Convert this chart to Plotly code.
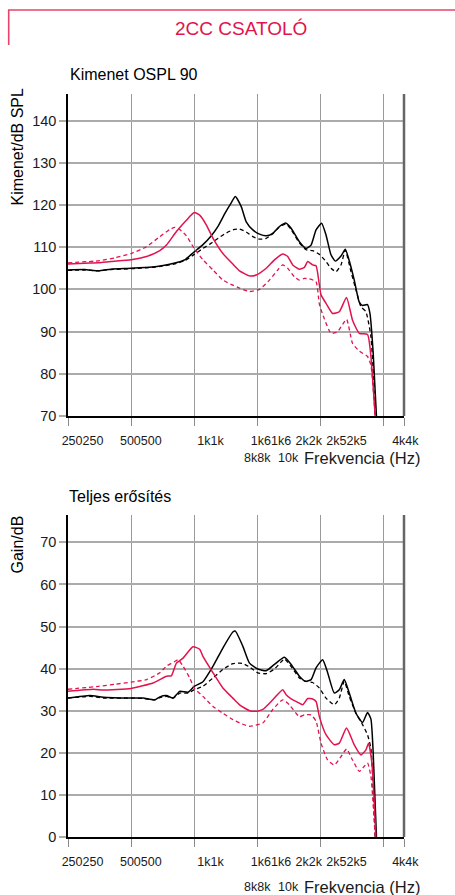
import math
import plotly.graph_objects as go

# ---------------- data (frequency in Hz, level in dB) ----------------
# Top chart: Kimenet OSPL 90
OSPL_BLK_SOLID_F = [250, 300, 350, 400, 500, 630, 700, 800, 900, 1000, 1100, 1200, 1300, 1400, 1500, 1570,
                    1675, 1769, 1902, 2046, 2203, 2368, 2548, 2742, 2896, 3171, 3413, 3605, 3808, 4047, 4248,
                    4487, 4703, 5007, 5249, 5483, 5792, 6119, 6344, 6700, 6880, 7130, 7390]
OSPL_BLK_SOLID_V = [104.6, 104.7, 104.4, 104.8, 105.0, 105.3, 105.6, 106.2, 107.0, 108.9, 110.6, 112.6, 115.0,
                    118.0, 120.5, 122.0, 119.6, 116.0, 114.1, 113.1, 112.7, 113.3, 114.9, 115.7, 114.5, 111.3,
                    109.7, 110.5, 114.1, 115.7, 112.9, 108.2, 106.7, 107.9, 109.5, 106.8, 102.2, 97.0, 96.2,
                    96.4, 94.3, 84.9, 70.0]

OSPL_BLK_DASH_F = [250, 300, 350, 400, 500, 630, 700, 800, 900, 1000, 1100, 1200, 1300, 1400, 1527, 1644,
                   1769, 1902, 2046, 2203, 2368, 2548, 2742, 2896, 3171, 3413, 3668, 3949, 4248, 4487, 4740,
                   5007, 5249, 5587, 5902, 6234, 6583, 6955, 7286]
OSPL_BLK_DASH_V = [104.5, 104.6, 104.4, 104.7, 104.9, 105.2, 105.5, 106.0, 106.8, 108.3, 109.7, 110.9, 112.1,
                   113.2, 114.1, 114.3, 113.6, 112.5, 111.9, 112.1, 113.2, 114.8, 115.5, 114.2, 111.0, 109.4,
                   109.2, 108.3, 106.6, 105.0, 104.2, 105.8, 109.3, 104.2, 99.9, 95.9, 94.7, 88.8, 70.0]

OSPL_RED_SOLID_F = [250, 300, 350, 400, 500, 592, 685, 737, 822, 917, 1000, 1061, 1141, 1229, 1369, 1527,
                    1644, 1834, 1974, 2203, 2412, 2641, 2789, 2947, 3171, 3350, 3473, 3668, 3808, 4022, 4248,
                    4566, 4914, 5322, 5684, 6119, 6700, 6955, 7286]
OSPL_RED_SOLID_V = [106.0, 106.2, 106.3, 106.6, 107.0, 107.8, 109.2, 110.5, 113.7, 116.4, 118.2, 117.6, 115.3,
                    112.1, 108.5, 106.0, 104.4, 103.2, 103.4, 105.0, 107.0, 108.4, 107.8, 105.8, 104.8, 105.2,
                    106.6, 105.8, 105.6, 98.7, 96.7, 94.3, 94.7, 98.1, 92.7, 89.6, 89.3, 84.1, 70.0]

OSPL_RED_DASH_F = [250, 354, 420, 500, 592, 685, 764, 807, 852, 917, 1000, 1100, 1229, 1369, 1527, 1644,
                   1834, 2046, 2283, 2500, 2641, 2789, 3002, 3171, 3350, 3539, 3808, 3949, 4094, 4487, 4823,
                   5322, 5684, 6119, 6700, 6955, 7286]
OSPL_RED_DASH_V = [106.3, 106.8, 107.5, 108.5, 110.1, 112.5, 114.2, 114.7, 114.2, 112.7, 109.7, 107.0, 104.6,
                   102.2, 101.0, 100.3, 99.5, 100.0, 102.2, 104.6, 105.8, 105.0, 103.0, 102.2, 102.6, 102.5,
                   101.8, 96.5, 94.1, 89.6, 90.0, 92.9, 87.2, 85.4, 84.1, 82.0, 70.0]

# Bottom chart: Teljes erősítés (gain)
GAIN_BLK_SOLID_F = [250, 318, 368, 500, 570, 648, 685, 737, 792, 852, 933, 1000, 1100, 1229, 1369, 1527,
                    1570, 1705, 1834, 2009, 2203, 2412, 2691, 2896, 3171, 3387, 3605, 3808, 4094, 4322, 4652,
                    4914, 5190, 5483, 5902, 6344, 6700, 6955, 7130, 7390]
GAIN_BLK_SOLID_V = [33.0, 33.6, 33.2, 33.0, 33.0, 32.6, 33.3, 33.6, 33.0, 34.6, 34.4, 35.8, 36.9, 40.6, 44.9,
                    48.7, 48.9, 45.3, 41.3, 39.9, 39.5, 41.0, 42.7, 41.0, 38.2, 37.0, 37.4, 40.2, 42.1, 39.1,
                    34.2, 35.0, 37.4, 34.2, 29.4, 27.2, 29.6, 28.0, 20.0, 0.0]

GAIN_BLK_DASH_F = [250, 318, 368, 500, 570, 648, 685, 737, 792, 852, 933, 1000, 1100, 1229, 1369, 1527,
                   1644, 1705, 1834, 2009, 2203, 2412, 2596, 2691, 2896, 3171, 3387, 3668, 3949, 4248, 4652,
                   4914, 5190, 5483, 5902, 6344, 6700, 6955, 7286]
GAIN_BLK_DASH_V = [33.0, 33.4, 33.0, 33.0, 32.9, 32.6, 33.1, 33.4, 33.0, 34.2, 34.2, 35.0, 35.8, 37.8, 39.8,
                   41.2, 41.3, 41.2, 40.4, 39.0, 38.8, 39.9, 41.6, 42.3, 40.5, 37.8, 37.0, 36.7, 35.4, 33.0,
                   31.4, 33.0, 37.0, 33.4, 29.4, 26.7, 24.3, 21.0, 0.0]

GAIN_RED_SOLID_F = [250, 330, 368, 500, 636, 685, 737, 778, 822, 884, 986, 1061, 1100, 1229, 1369, 1527,
                    1644, 1834, 2000, 2122, 2368, 2641, 2742, 2896, 3113, 3288, 3473, 3668, 3808, 3949, 4248,
                    4652, 4914, 5322, 5792, 6234, 6583, 6774, 7034, 7340]
GAIN_RED_SOLID_V = [34.6, 35.1, 34.9, 35.3, 36.6, 37.4, 38.2, 38.3, 41.3, 42.5, 45.2, 44.6, 42.9, 39.0, 35.4,
                    33.0, 31.4, 30.0, 29.9, 30.3, 32.6, 35.0, 33.8, 32.8, 32.0, 31.4, 32.9, 32.8, 32.2, 28.6,
                    24.3, 21.9, 22.3, 25.9, 21.9, 19.5, 20.7, 22.3, 17.5, 0.0]

GAIN_RED_DASH_F = [250, 350, 420, 500, 592, 685, 737, 807, 838, 884, 951, 1000, 1100, 1229, 1369, 1527,
                   1644, 1834, 2122, 2368, 2641, 2842, 3171, 3350, 3605, 3808, 4022, 4322, 4652, 5007, 5322,
                   5684, 6119, 6462, 6700, 6955, 7286]
GAIN_RED_DASH_V = [35.1, 35.8, 36.3, 36.8, 37.4, 39.0, 40.6, 41.7, 42.1, 40.6, 37.8, 35.4, 33.4, 31.0, 29.4,
                   27.9, 27.1, 26.3, 27.1, 30.3, 32.6, 31.4, 28.6, 29.0, 29.0, 27.5, 22.3, 18.3, 17.1, 19.1,
                   20.9, 18.3, 15.6, 16.8, 17.6, 14.4, 0.0]

# axes / labels
GRID_FREQS = [250, 500, 1000, 2000, 4000, 8000, 10000]
TICK_TEXT = ["250250", "500500", "1k1k", "1k61k6", "2k2k", "2k52k5", "4k4k"]
TICK_POS = [280.5, 532, 1143, 2222, 3361, 5090, 9712]
ROW2_TEXT = ["8k8k", "10k"]
ROW2_POS = [1997, 2820]
BAND = [1600, 2500]
OSPL_TICKS = [70, 80, 90, 100, 110, 120, 130, 140]
GAIN_TICKS = [0, 10, 20, 30, 40, 50, 60, 70]

RED = "#e2134c"
BLACK = "#000000"
SANS = "Liberation Sans, Arial, sans-serif"
XTICK_FONT = dict(family=SANS, size=12.5, color="#1a1a1a")

W, H = 455, 895
XDOM = [68 / W, 404 / W]
TOP_DOM = [1 - 416 / H, 1 - 94 / H]
BOT_DOM = [1 - 837 / H, 1 - 515 / H]

fig = go.Figure()

def add(f, v, color, dash, width, xa, ya):
    fig.add_trace(go.Scatter(
        x=f, y=v, xaxis=xa, yaxis=ya, mode="lines", showlegend=False, hoverinfo="skip",
        line=dict(color=color, width=width, dash=dash, shape="spline", smoothing=0.5)))

DASH = "4px,3px"
add(OSPL_BLK_DASH_F, OSPL_BLK_DASH_V, BLACK, DASH, 1.3, "x", "y")
add(OSPL_BLK_SOLID_F, OSPL_BLK_SOLID_V, BLACK, "solid", 1.5, "x", "y")
add(OSPL_RED_DASH_F, OSPL_RED_DASH_V, RED, DASH, 1.3, "x", "y")
add(OSPL_RED_SOLID_F, OSPL_RED_SOLID_V, RED, "solid", 1.5, "x", "y")
add(GAIN_BLK_DASH_F, GAIN_BLK_DASH_V, BLACK, DASH, 1.3, "x2", "y2")
add(GAIN_BLK_SOLID_F, GAIN_BLK_SOLID_V, BLACK, "solid", 1.5, "x2", "y2")
add(GAIN_RED_DASH_F, GAIN_RED_DASH_V, RED, DASH, 1.3, "x2", "y2")
add(GAIN_RED_SOLID_F, GAIN_RED_SOLID_V, RED, "solid", 1.5, "x2", "y2")


def xaxis(anchor):
    return dict(
        type="log", range=[math.log10(250), math.log10(10000)], domain=XDOM, anchor=anchor,
        automargin=False, tickangle=0,
        showgrid=False, zeroline=False, showline=True, linecolor="black", linewidth=1.5,
        ticks="", tickmode="array", tickvals=TICK_POS, ticktext=TICK_TEXT,
        ticklabelshift=4, ticklabelstandoff=12,
        tickfont=XTICK_FONT,
        minor=dict(tickmode="array", tickvals=GRID_FREQS, showgrid=True, gridcolor="#9a9a9a",
                   gridwidth=1.3, ticks="outside", ticklen=8, tickcolor="#8a8a8a", tickwidth=1.3),
        fixedrange=True)


def yaxis(anchor, dom, rng, tv):
    return dict(
        domain=dom, anchor=anchor, range=rng, tickmode="array", tickvals=tv, automargin=False,
        showgrid=True, gridcolor="#ababab", gridwidth=2, zeroline=False,
        showline=True, linecolor="black", linewidth=1.5,
        ticks="outside", ticklen=7, tickcolor="#ababab", tickwidth=2,
        tickfont=dict(family=SANS, size=14.5, color="#1a1a1a"), fixedrange=True)


shapes = []
for xr, yr in (("x", "y"), ("x2", "y2")):
    shapes.append(dict(type="rect", xref=xr, yref=yr + " domain", x0=math.log10(BAND[0]),
                       x1=math.log10(BAND[1]), y0=0, y1=1, fillcolor="#d9dada",
                       line=dict(width=0), layer="below"))
    shapes.append(dict(type="line", xref=xr + " domain", yref=yr + " domain", x0=1, x1=1, y0=0, y1=1,
                       line=dict(color="#666666", width=2.5), layer="above"))
# header frame
shapes.append(dict(type="line", xref="paper", yref="paper", x0=8 / W, x1=1, y0=1 - 10 / H, y1=1 - 10 / H,
                   line=dict(color="#e8426b", width=1.6)))
shapes.append(dict(type="line", xref="paper", yref="paper", x0=8.7 / W, x1=8.7 / W, y0=1 - 10 / H,
                   y1=1 - 45 / H, line=dict(color="#e8426b", width=1.6)))


def note(text, x, y, size, color="black", xanchor="center", angle=0, xref="paper", family=SANS):
    return dict(text=text, x=x, y=y, xref=xref, yref="paper", xanchor=xanchor, yanchor="middle",
                textangle=angle, showarrow=False, font=dict(family=family, size=size, color=color))


ann = [
    note("2CC CSATOLÓ", 240.5 / W, 1 - 28.4 / H, 19, RED),
    note("Kimenet OSPL 90", 67.5 / W, 1 - 74.5 / H, 16, xanchor="left"),
    note("Teljes erősítés", 66.5 / W, 1 - 496.2 / H, 16, xanchor="left"),
    note("Kimenet/dB SPL", 16.5 / W, 1 - 147 / H, 16, angle=-90),
    note("Gain/dB", 16.5 / W, 1 - 545 / H, 16, angle=-90),
]
for xr, yc in (("x", 457.5), ("x2", 887.0)):
    for t, p in zip(ROW2_TEXT, ROW2_POS):
        ann.append(note(t, math.log10(p), 1 - yc / H, 12.5, "#1a1a1a", xref=xr))
    ann.append(note("Frekvencia (Hz)", 301.5 / W, 1 - yc / H, 16.5, "#1a1a1a", xanchor="left"))

fig.update_layout(
    width=W, height=H, margin=dict(l=0, r=0, t=0, b=0, autoexpand=False), template="none",
    paper_bgcolor="white", plot_bgcolor="white", showlegend=False,
    xaxis=xaxis("y"), yaxis=yaxis("x", TOP_DOM, [70, 146.3], OSPL_TICKS),
    xaxis2=xaxis("y2"), yaxis2=yaxis("x2", BOT_DOM, [0, 76.5], GAIN_TICKS),
    shapes=shapes, annotations=ann,
)

fig.write_html("out.html", config={"displayModeBar": False},
               post_script="document.body.style.margin='0';")
